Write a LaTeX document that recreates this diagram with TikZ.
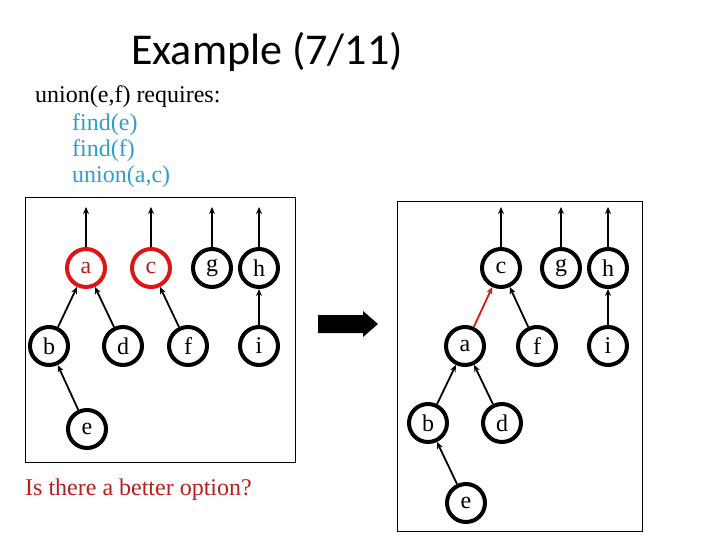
\documentclass[tikz,border=0pt]{standalone}
\usepackage{fontspec}
\setmainfont{Liberation Serif}
\newfontfamily\tms{Liberation Serif}
\newfontfamily\titlefont{Carlito}
\usetikzlibrary{arrows.meta}
\definecolor{findblue}{RGB}{50,158,200}
\definecolor{ringred}{RGB}{225,20,20}
\definecolor{textred}{RGB}{185,30,30}
\tikzset{
  vtx/.style={circle,draw=black,line width=4pt,minimum size=38pt,inner sep=0pt,font=\tms\fontsize{24}{24}\selectfont},
  rootvtx/.style={vtx,draw=ringred,text=textred},
  link/.style={line width=1.8pt,-{Stealth[length=7pt,width=6pt]}},
  redlink/.style={link,draw=ringred},
  frame/.style={draw=black,line width=1pt},
  txt/.style={anchor=base west,inner sep=0pt,font=\tms\fontsize{24}{24}\selectfont},
}
\begin{document}
\begin{tikzpicture}[x=1pt,y=-1pt]
\useasboundingbox (0,0) rectangle (720,540);
% title and text
\node[anchor=base west,inner sep=0pt,font=\titlefont\fontsize{44}{44}\selectfont] (title) at (131,65) {Example (7/11)};
\node[txt] (req) at (35,103) {union(e,f) requires:};
\node[txt,text=findblue] (f1) at (72,131) {find(e)};
\node[txt,text=findblue] (f2) at (72,157) {find(f)};
\node[txt,text=findblue] (f3) at (72,183) {union(a,c)};
\node[txt,text=textred] (q) at (25,495) {Is there a better option?};
% frames
\draw[frame] (25,198) rectangle (295,462);
\draw[frame] (397,202) rectangle (642,531);
% left forest
\node[rootvtx] (La) at (86,268) {a};
\node[rootvtx] (Lc) at (151,268) {c};
\node[vtx] (Lg) at (212,268) {g};
\node[vtx] (Lh) at (259,268) {h};
\node[vtx] (Lb) at (49,346) {b};
\node[vtx] (Ld) at (123,346) {d};
\node[vtx] (Lf) at (188,346) {f};
\node[vtx] (Li) at (259,346) {i};
\node[vtx] (Le) at (87,429) {e};
\coordinate (La0) at (86,207);
\coordinate (Lc0) at (151,207);
\coordinate (Lg0) at (212,207);
\coordinate (Lh0) at (259,207);
\draw[link] (La) -- (La0);
\draw[link] (Lc) -- (Lc0);
\draw[link] (Lg) -- (Lg0);
\draw[link] (Lh) -- (Lh0);
\draw[link] (Lb) -- (La);
\draw[link] (Ld) -- (La);
\draw[link] (Lf) -- (Lc);
\draw[link] (Li) -- (Lh);
\draw[link] (Le) -- (Lb);
% big arrow
\fill[black] (318,315) -- (363,315) -- (363,311) -- (378,324) -- (363,337) -- (363,333) -- (318,333) -- cycle;
% right forest
\node[vtx] (Rc) at (501,268) {c};
\node[vtx] (Rg) at (561,268) {g};
\node[vtx] (Rh) at (608,268) {h};
\node[vtx] (Ra) at (465,346) {a};
\node[vtx] (Rf) at (537,346) {f};
\node[vtx] (Ri) at (608,346) {i};
\node[vtx] (Rb) at (428,423) {b};
\node[vtx] (Rd) at (502,423) {d};
\node[vtx] (Re) at (466,503) {e};
\coordinate (Rc0) at (501,207);
\coordinate (Rg0) at (561,207);
\coordinate (Rh0) at (608,207);
\draw[link] (Rc) -- (Rc0);
\draw[link] (Rg) -- (Rg0);
\draw[link] (Rh) -- (Rh0);
\draw[redlink] (Ra) -- (Rc);
\draw[link] (Rf) -- (Rc);
\draw[link] (Ri) -- (Rh);
\draw[link] (Rb) -- (Ra);
\draw[link] (Rd) -- (Ra);
\draw[link] (Re) -- (Rb);
\end{tikzpicture}
\end{document}
